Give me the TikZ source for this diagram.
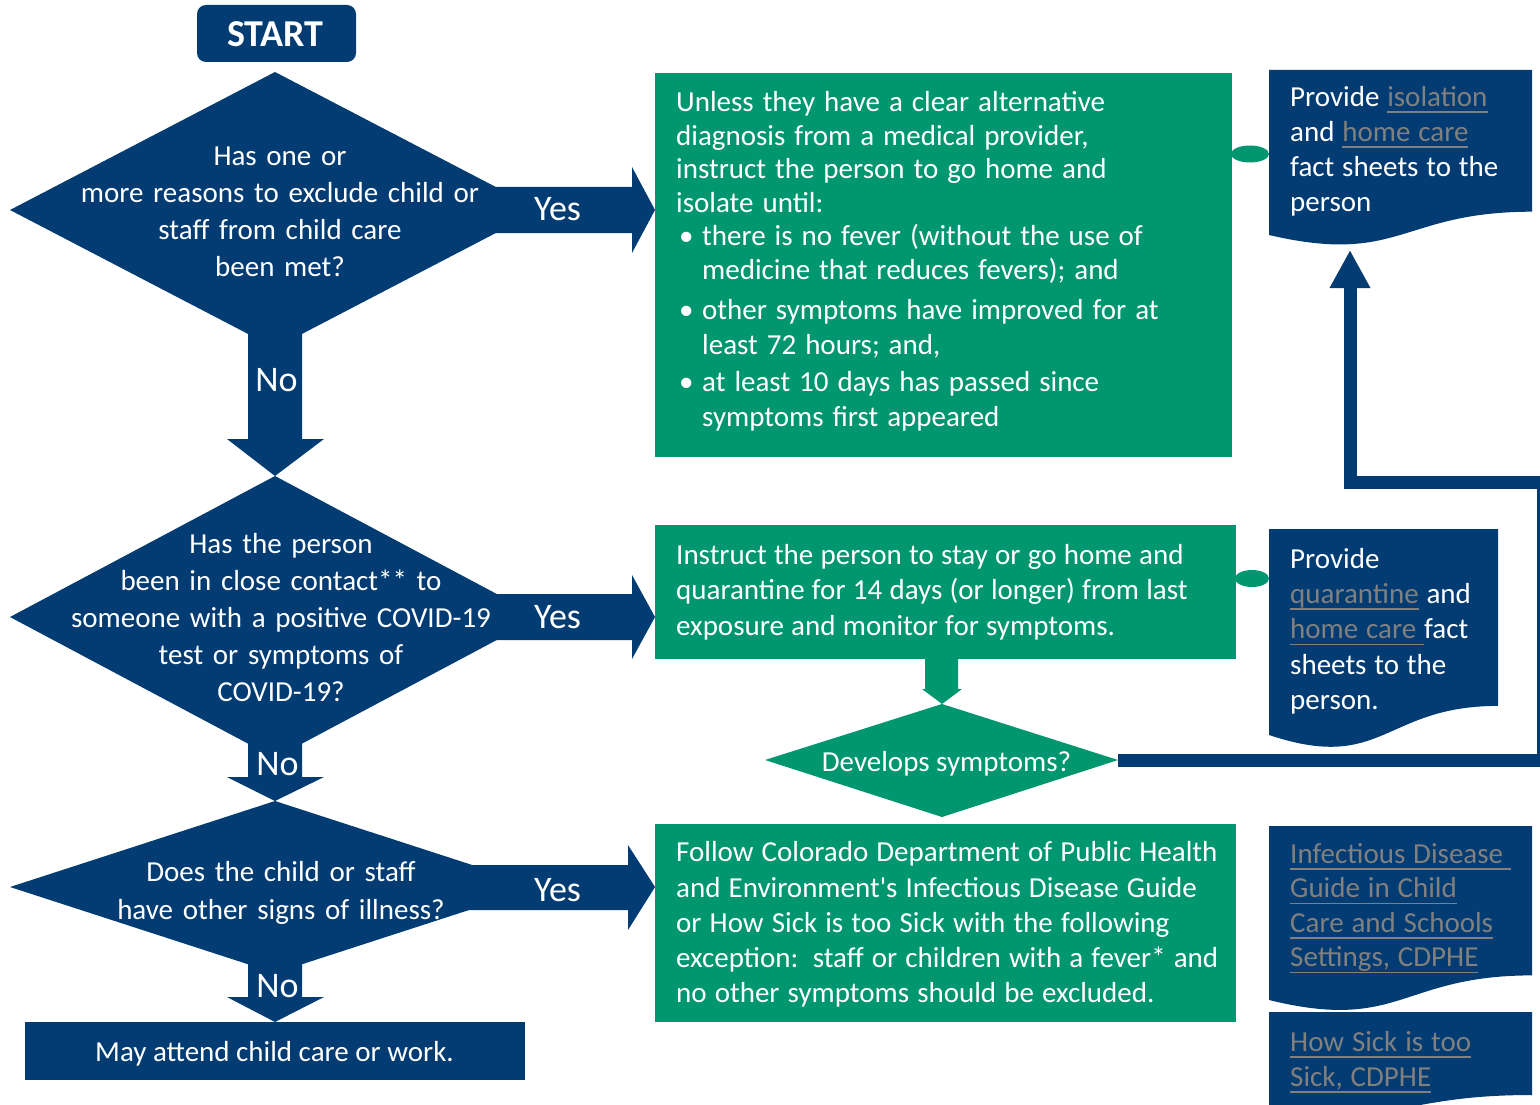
\documentclass[tikz,border=0pt]{standalone}
\usepackage{fontspec}
\setmainfont[Ligatures=TeXOff]{Carlito}
\usetikzlibrary{arrows.meta}
\definecolor{navy}{RGB}{2,60,115}
\definecolor{cgreen}{RGB}{0,150,112}
\definecolor{linkgray}{RGB}{128,128,128}
\newcommand\lnk[1]{\leavevmode{\color{linkgray}\setbox0\hbox{#1}\rlap{\rule[-6.5pt]{\wd0}{1.8pt}}\box0}}
\newcommand\bul{\makebox[26pt][l]{\hspace{3pt}•}}
\newcommand\tightsp[1]{\spaceskip=#1em plus 0.05em\relax}
\tikzset{
  navyfill/.style={fill=navy, draw=none},
  greenfill/.style={fill=cgreen, draw=none},
  bodytxt/.style={inner sep=0pt, anchor=base west, text width=600pt, align=left, text=white,
     font=\fontsize{29}{33.5}\selectfont},
  doctxt/.style={bodytxt, text width=250pt, font=\fontsize{29}{35}\selectfont},
  dtxt/.style={inner sep=0pt, anchor=base, text width=500pt, align=center, text=white,
     font=\fontsize{29}{37.2}\selectfont},
  yn/.style={inner sep=0pt, anchor=base, text=white, font=\fontsize{36}{40}\selectfont},
  connector/.style={draw=navy, line width=13pt, -{Triangle[width=38pt,length=38pt]}},
}
\begin{document}
\begin{tikzpicture}[x=1pt,y=-1pt]
\useasboundingbox (0,0) rectangle (1540,1105);
\begin{scope}
\clip (0,0) rectangle (1540,1105);

% START
\fill[navy, rounded corners=9pt] (197,5) rectangle (356,62);
\node[inner sep=0pt, anchor=base, text=white, font=\fontsize{38}{40}\selectfont\bfseries] (start) at (275.5,46.7) {START};

% Decision 1 and arrows
\fill[navyfill] (275,72) -- (540,210) -- (275,348) -- (10,210) -- cycle;
\node[dtxt] (q1) at (280,165) {Has one or\\ more reasons to exclude child or\\ staff from child care\\ been met?};
\fill[navyfill] (490,187) -- (632,187) -- (632,167) -- (655,210) -- (632,253) -- (632,233) -- (490,233) -- cycle;
\node[yn] (yes1) at (557.5,220) {Yes};
\fill[navyfill] (248,330) -- (302,330) -- (302,439) -- (324,439) -- (275,476) -- (227,439) -- (248,439) -- cycle;
\node[yn] (no1) at (276.5,391.7) {No};

% Decision 2
\fill[navyfill] (275,476) -- (540,617) -- (275,758) -- (10,617) -- cycle;
\node[dtxt, font=\fontsize{29}{37}\selectfont] (q2) at (281,553) {Has the person\\ been in close contact** to\\ someone with a positive COVID-19\\ test or symptoms of\\ COVID-19?};
\fill[navyfill] (490,594) -- (632,594) -- (632,575) -- (655,617) -- (632,659) -- (632,640) -- (490,640) -- cycle;
\node[yn] (yes2) at (557.5,628) {Yes};
\fill[navyfill] (248,740) -- (302,740) -- (302,777) -- (324,777) -- (275,801) -- (227,777) -- (248,777) -- cycle;
\node[yn] (no2) at (277.5,775) {No};

% Decision 3
\fill[navyfill] (275,801) -- (540,887) -- (275,973) -- (10,887) -- cycle;
\node[dtxt, font=\fontsize{29}{38}\selectfont] (q3) at (281,881) {Does the child or staff\\ have other signs of illness?};
\fill[navyfill] (460,865) -- (628,865) -- (628,845) -- (655,887) -- (628,930) -- (628,910) -- (460,910) -- cycle;
\node[yn] (yes3) at (557.5,901) {Yes};
\fill[navyfill] (248,960) -- (302,960) -- (302,997) -- (324,997) -- (275,1022) -- (227,997) -- (248,997) -- cycle;
\node[yn] (no3) at (277.5,997) {No};

% End box
\fill[navyfill] (25,1022) rectangle (525,1080);
\node[inner sep=0pt, anchor=base, text=white, font=\fontsize{29}{33}\selectfont] (attend) at (274.5,1061) {May attend child care or work.};

% small green links
\fill[cgreen] (1250,154) ellipse [x radius=19pt, y radius=8.5pt];
\fill[cgreen] (1252,578.5) ellipse [x radius=17pt, y radius=8.5pt];

% Green box 1
\fill[greenfill] (655,73) rectangle (1232,457);
\node[bodytxt] (iso) at (676,111.7) {\tightsp{0.31}Unless they have a clear alternative\\
diagnosis from a medical provider,\\
instruct the person to go home and\\
isolate until:\\
\bul there is no fever (without the use of\\
\hspace*{26pt}medicine that reduces fevers); and\\[6.6pt]
\bul other symptoms have improved for at\\[1.6pt]
\hspace*{26pt}least 72 hours; and,\\[3.3pt]
\bul at least 10 days has passed since\\[1.6pt]
\hspace*{26pt}symptoms first appeared};

% Green box 2
\fill[greenfill] (655,525) rectangle (1236,659);
\node[bodytxt, font=\fontsize{29}{35.5}\selectfont] (quar) at (676,564) {\tightsp{0.25}Instruct the person to stay or go home and\\
quarantine for 14 days (or longer) from last\\
exposure and monitor for symptoms.};

% green down arrow and decision
\fill[greenfill] (925,659) -- (958,659) -- (958,689) -- (962,689) -- (942,704) -- (922,689) -- (925,689) -- cycle;
\fill[greenfill] (942,704) -- (1118,760) -- (942,817) -- (765,760) -- cycle;
\node[inner sep=0pt, anchor=base, text=white, font=\fontsize{29}{33}\selectfont] (dev) at (946.5,771.7) {Develops symptoms?};
\coordinate (devR) at (1118,760);

% Green box 3
\fill[greenfill] (655,824) rectangle (1236,1022);
\node[bodytxt, font=\fontsize{29}{35.3}\selectfont] (follow) at (676,861.7) {\tightsp{0.28}Follow Colorado Department of Public Health\\
and Environment's Infectious Disease Guide\\
or How Sick is too Sick with the following\\
exception: staff or children with a fever* and\\
no other symptoms should be excluded.};

% Documents
\fill[navyfill] (1269,70) -- (1532,70) -- (1532,211.7) .. controls (1400.5,211.7) and (1400.5,265.7) .. (1269,235) -- cycle;
\node[doctxt] (doc1) at (1290,106.7) {\tightsp{0.27}Provide \lnk{isolation}\\ and \lnk{home care}\\ fact sheets to the\\ person};
\coordinate (d1tip) at (1350,250);

\fill[navyfill] (1269,529) -- (1498,529) -- (1498,705.9) .. controls (1383.5,705.9) and (1383.5,773.3) .. (1269,735) -- cycle;
\node[doctxt, font=\fontsize{29}{35.3}\selectfont] (doc2) at (1290,568.3) {\tightsp{0.27}Provide\\ \lnk{quarantine} and\\ \lnk{home care }fact\\ sheets to the\\ person.};

\fill[navyfill] (1269,826) -- (1532,826) -- (1532,975.4) .. controls (1400.5,975.4) and (1400.5,1032.3) .. (1269,1000) -- cycle;
\node[doctxt, font=\fontsize{29}{34.5}\selectfont] (doc3) at (1290,863.3) {\tightsp{0.27}\lnk{Infectious Disease }\\ \lnk{Guide in Child}\\ \lnk{Care and Schools}\\ \lnk{Settings, CDPHE}};

\fill[navyfill] (1269,1012) -- (1532,1012) -- (1532,1095) .. controls (1400.5,1095) and (1400.5,1126.6) .. (1269,1108.7) -- cycle;
\node[doctxt, font=\fontsize{29}{34.3}\selectfont] (doc4) at (1290,1051.7) {\tightsp{0.27}\lnk{How Sick is too}\\ \lnk{Sick, CDPHE}};

% connector from "Develops symptoms?" to the isolation sheet
\draw[connector] (devR) -- (1543.5,760) |- (1350,482.5) -- (d1tip);
\end{scope}
\end{tikzpicture}
\end{document}
